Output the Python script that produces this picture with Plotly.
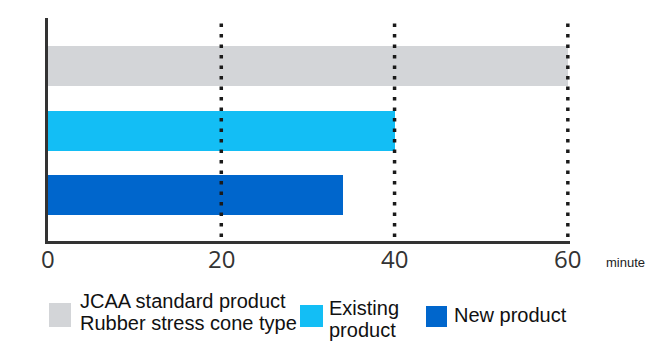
import plotly.graph_objects as go

# Time to complete (minutes) per product type
categories = ["New product", "Existing product", "JCAA standard product"]
minutes = [34, 40, 60]
bar_colors = ["#0066CC", "#13BEF5", "#D3D5D8"]

x_ticks = [0, 20, 40, 60]
grid_ticks = [20, 40, 60]
x_unit = "minute"

# Legend entries (label lines, swatch colour)
legend_items = [
    (["JCAA standard product", "Rubber stress cone type"], "#D3D5D8"),
    (["Existing", "product"], "#13BEF5"),
    (["New product"], "#0066CC"),
]

W, H = 654, 347
X_MAX = 60.25
L, T, B = 48, 18, 106
PW = round(520 * X_MAX / 60)
R = W - L - PW
PH = H - T - B


def px_x(px):
    return (px - L) / PW


def px_y(py):
    return (H - B - py) / PH


fig = go.Figure(
    go.Bar(
        y=categories,
        x=minutes,
        orientation="h",
        marker=dict(color=bar_colors, line=dict(width=0)),
        width=0.62,
        showlegend=False,
        hoverinfo="skip",
    )
)

fig.update_layout(
    width=W,
    height=H,
    margin=dict(l=L, r=R, t=T, b=B),
    paper_bgcolor="white",
    plot_bgcolor="white",
    bargap=0,
    xaxis=dict(
        range=[0, X_MAX],
        tickvals=x_ticks,
        showticklabels=False,
        showgrid=False,
        zeroline=False,
        showline=True,
        linecolor="#333333",
        linewidth=2.5,
        ticks="",
        fixedrange=True,
    ),
    yaxis=dict(
        type="category",
        categoryorder="array",
        categoryarray=categories,
        range=[-0.713, 2.744],
        showticklabels=False,
        showgrid=False,
        zeroline=False,
        showline=True,
        linecolor="#333333",
        linewidth=2.5,
        ticks="",
        fixedrange=True,
    ),
)

# Dotted reference lines drawn over the bars
for v in grid_ticks:
    fig.add_shape(
        type="line", xref="x", yref="paper",
        x0=v, x1=v, y0=px_y(237), y1=px_y(20),
        line=dict(color="#1a1a1a", width=3.5, dash="3.5px,7px"),
        layer="above",
    )

# Tick labels under the axis
for v in x_ticks:
    fig.add_annotation(
        xref="x", yref="paper", x=v, y=px_y(258),
        text=str(v), showarrow=False, xanchor="center", yanchor="middle",
        font=dict(family="Open Sans, Arial", size=24, color="#333333"),
    )

# Unit label to the right of the axis
fig.add_annotation(
    xref="paper", yref="paper", x=px_x(604), y=px_y(262),
    text=x_unit, showarrow=False, xanchor="left", yanchor="middle",
    font=dict(family="Arial", size=13, color="#222222"),
)

# Legend drawn below the axis: swatch + stacked label lines
swatches = [(49, 303, 71, 327), (300, 305, 323, 327), (426, 306, 447, 327)]
text_x = [78, 327, 452]
line_centers = [[301, 323], [308, 330], [315]]
for (lines, color), (x0, y0, x1, y1), tx, centers in zip(legend_items, swatches, text_x, line_centers):
    fig.add_shape(
        type="rect", xref="paper", yref="paper",
        x0=px_x(x0), x1=px_x(x1), y0=px_y(y1), y1=px_y(y0),
        fillcolor=color, line=dict(width=0),
    )
    for line, cy in zip(lines, centers):
        fig.add_annotation(
            xref="paper", yref="paper", x=px_x(tx), y=px_y(cy),
            text=line, showarrow=False, xanchor="left", yanchor="middle",
            font=dict(family="Arial", size=20, color="#111111"),
        )

fig.write_html("out.html")
